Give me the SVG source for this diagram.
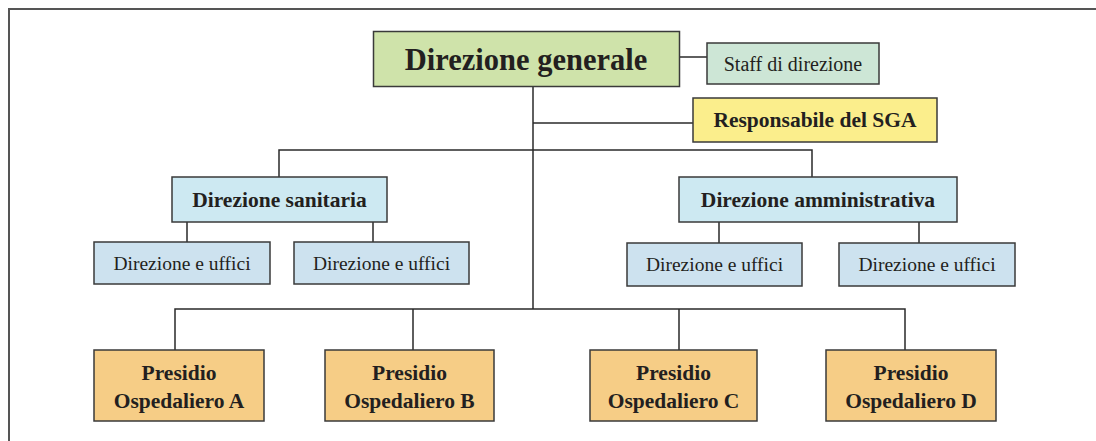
<svg xmlns="http://www.w3.org/2000/svg" width="1096" height="441" viewBox="0 0 1096 441">
<style>
.box{stroke:#3a3a3a;stroke-width:1.5}
.g{fill:#cfe3aa}.s{fill:#cde6d6}.y{fill:#fbee8c}.b{fill:#cde9f2}.u{fill:#cde2ef}.o{fill:#f6cd86}
text{font-family:"Liberation Serif","Times New Roman",serif;fill:#231f20;text-anchor:middle}
.bd{font-weight:bold}
.ln{stroke:#2a2a2a;stroke-width:1.5;fill:none}
</style>
<rect x="9" y="9" width="1100" height="440" fill="#fff" stroke="#555" stroke-width="2"/>
<g id="connectors">
<path class="ln" d="M533 87V309"/>
<path class="ln" d="M680 57H707"/>
<path class="ln" d="M533 123H693"/>
<path class="ln" d="M279 177V150H812V177"/>
<path class="ln" d="M187 222V242M373 222V242"/>
<path class="ln" d="M719 222V243M919 222V243"/>
<path class="ln" d="M175 350V309H905V350M413 309V350M679 309V350"/>
</g>
<g id="dg"><rect class="box g" x="373.5" y="31.5" width="306" height="55"/><text class="bd" x="526" y="70" font-size="30.5">Direzione generale</text></g>
<g id="staff"><rect class="box s" x="707" y="43" width="172" height="41"/><text x="793" y="71" font-size="20">Staff di direzione</text></g>
<g id="sga"><rect class="box y" x="693" y="98" width="244" height="44"/><text class="bd" x="815" y="127" font-size="21.5">Responsabile del SGA</text></g>
<g id="sanitaria"><rect class="box b" x="172" y="177" width="215" height="45"/><text class="bd" x="279.5" y="207" font-size="21.5">Direzione sanitaria</text></g>
<g id="amministrativa"><rect class="box b" x="679" y="177" width="278" height="45"/><text class="bd" x="818" y="207" font-size="21.5">Direzione amministrativa</text></g>
<g id="uff1"><rect class="box u" x="94" y="242" width="176" height="42"/><text x="182" y="270" font-size="19.5">Direzione e uffici</text></g>
<g id="uff2"><rect class="box u" x="294" y="242" width="175" height="42"/><text x="381.5" y="270" font-size="19.5">Direzione e uffici</text></g>
<g id="uff3"><rect class="box u" x="627" y="243" width="175" height="43"/><text x="714.5" y="271" font-size="19.5">Direzione e uffici</text></g>
<g id="uff4"><rect class="box u" x="839" y="243" width="176" height="43"/><text x="927" y="271" font-size="19.5">Direzione e uffici</text></g>
<g id="pA"><rect class="box o" x="94" y="350" width="170" height="71"/><text class="bd" x="179" y="380" font-size="21.5">Presidio</text><text class="bd" x="179" y="408" font-size="21.5">Ospedaliero A</text></g>
<g id="pB"><rect class="box o" x="325" y="350" width="169" height="71"/><text class="bd" x="409.5" y="380" font-size="21.5">Presidio</text><text class="bd" x="409.5" y="408" font-size="21.5">Ospedaliero B</text></g>
<g id="pC"><rect class="box o" x="590" y="350" width="167" height="71"/><text class="bd" x="673.5" y="380" font-size="21.5">Presidio</text><text class="bd" x="673.5" y="408" font-size="21.5">Ospedaliero C</text></g>
<g id="pD"><rect class="box o" x="826" y="350" width="170" height="71"/><text class="bd" x="911" y="380" font-size="21.5">Presidio</text><text class="bd" x="911" y="408" font-size="21.5">Ospedaliero D</text></g>
</svg>
